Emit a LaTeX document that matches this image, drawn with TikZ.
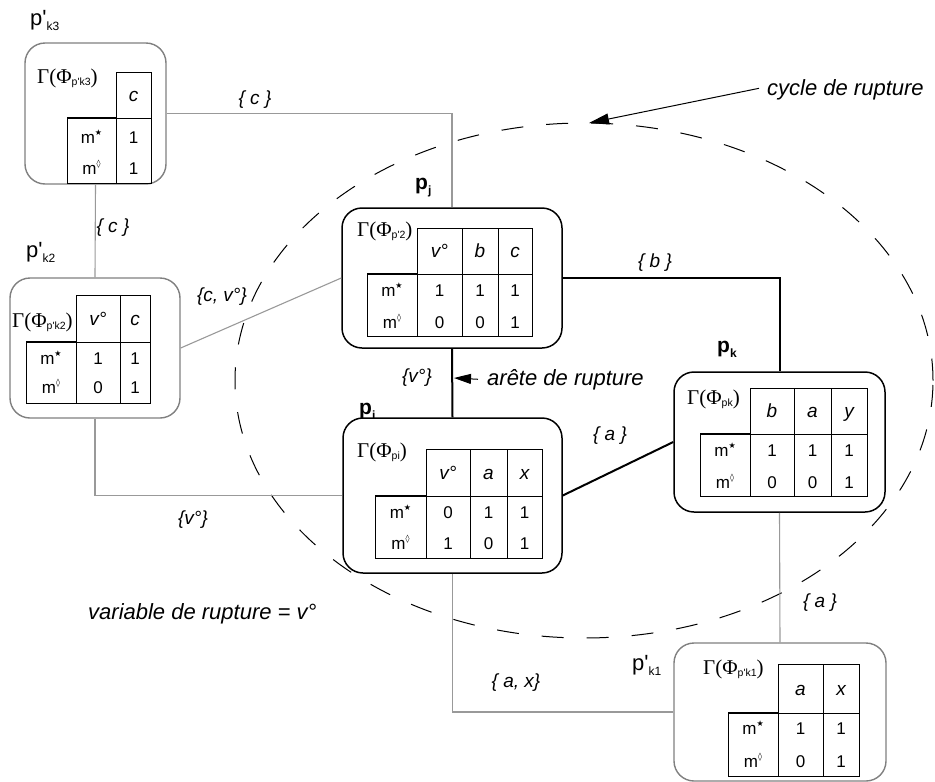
\documentclass[tikz,border=0pt]{standalone}
\usepackage{fontspec}
\setmainfont{Liberation Sans}[Ligatures=TeXOff]
\newfontfamily\tmsfont{Liberation Serif}
\newfontfamily\djv{DejaVu Sans}
\usetikzlibrary{arrows.meta}
\newcommand{\fs}[1]{\fontsize{#1}{#1}\selectfont}
\newcommand{\mstar}{m\raisebox{0.42em}{\djv\fs{8}★}}
\newcommand{\mdia}{m\raisebox{0.45em}{\djv\fs{8}◊}}
\newcommand{\gtitle}[1]{{\tmsfont\fs{21}Γ(Φ}\raisebox{-2pt}{\fs{10.5}#1}{\tmsfont\fs{21})}}
\newcommand{\plab}[2]{{\fs{22}#1}\raisebox{-5pt}{\fs{12}#2}}
\newcommand{\pblab}[2]{{\bfseries\fs{21}#1}\raisebox{-5pt}{\bfseries\fs{12}#2}}
\newcommand{\tabframe}[6]{%
  \draw[tabline] (#2,#4) rectangle (#3,#6);
  \draw[tabline] (#1,#5) -- (#3,#5);
  \draw[tabline] (#1,#5) -- (#1,#6) -- (#2,#6);
  \draw[thk] (#1,#5) -- (#2,#5);}
\newcommand{\tabcols}[5]{%
  \foreach \cx/\hh/\va/\vb [count=\ci] in {#5} {
    \node[hd] (#1h\ci) at (\cx,#2) {\hh};
    \node[cell] (#1a\ci) at (\cx,#3) {\va};
    \node[cell] (#1b\ci) at (\cx,#4) {\vb};
  }}
\tikzset{
  pbox/.style={draw=black, line width=1.5pt, rounded corners=20pt, fill=white, inner sep=0pt},
  gbox/.style={draw=black!50, line width=1.4pt, rounded corners=20pt, fill=white, inner sep=0pt},
  tabline/.style={line width=1pt},
  thk/.style={line width=2.2pt},
  gcon/.style={draw=black!40, line width=1.1pt},
  bcon/.style={line width=2pt},
  elab/.style={font=\fs{19}\itshape, inner sep=0pt},
  big/.style={font=\fs{22}\itshape, inner sep=0pt, anchor=base west},
  hd/.style={font=\fs{19}\itshape, inner sep=0pt, text height=13.6pt, text depth=0pt},
  cell/.style={font=\fs{17}, inner sep=0pt, text height=12.2pt, text depth=0pt},
  ttl/.style={inner sep=0pt, anchor=base west},
  lab/.style={inner sep=0pt, anchor=base west},
  cycdash/.style={line width=1pt, dash pattern=on 22pt off 23pt},
  ptr/.style={line width=1pt, -{Triangle[length=20pt,width=11pt]}},
}
\begin{document}
\begin{tikzpicture}[x=1pt,y=-1pt]
\useasboundingbox (0,0) rectangle (935,782);
% cycle
\draw[cycdash] (584,380.5) ellipse [x radius=349pt, y radius=257.5pt];
% boxes
\node[gbox, minimum width=141pt, minimum height=141pt] (pk3) at (95.5,113.5) {};
\node[gbox, minimum width=170pt, minimum height=140pt] (pk2) at (95,348) {};
\node[pbox, minimum width=220pt, minimum height=140pt] (pj) at (452,278) {};
\node[pbox, minimum width=219pt, minimum height=155pt] (pi) at (452.5,495.5) {};
\node[pbox, minimum width=211pt, minimum height=140pt] (pk) at (779.5,442) {};
\node[gbox, minimum width=212pt, minimum height=138pt] (pk1) at (780,712) {};
% connectors
\draw[gcon] (pk3.east) -| (pj.north);
\draw[gcon] (pk3.south) -- (pk2.north);
\draw[gcon] (pk2.east) -- (pj.west);
\draw[gcon] (pk2.south) |- (pi.west);
\draw[gcon] (pk.south) -- (pk1.north);
\draw[gcon] (pi.south) |- (pk1.west);
\draw[bcon] (pj.east) -| (pk.north);
\draw[bcon] (pj.south) -- (pi.north);
\draw[bcon] (pi.east) -- (pk.west);
% tables
% p'k3
\tabframe{67}{116}{151}{72}{118}{183}
\node[cell] (k3m1) at (91.5,137) {\mstar};
\node[cell] (k3m2) at (91.5,168) {\mdia};
\tabcols{k3}{95}{137}{168}{133.5/c/1/1}
\node[ttl] (k3t) at (37,83) {\gtitle{p'k3}};
% p'k2
\tabframe{26}{76}{150}{295}{342}{403}
\draw[tabline] (120,295) -- (120,403);
\node[cell] (k2m1) at (51,358) {\mstar};
\node[cell] (k2m2) at (51,387) {\mdia};
\tabcols{k2}{318.5}{358}{387}{98/v°/1/0,135/c/1/1}
\node[ttl] (k2t) at (12,327) {\gtitle{p'k2}};
% pj
\tabframe{367}{417}{532}{228}{274}{336}
\foreach \dx in {462,498} \draw[tabline] (\dx,228) -- (\dx,336);
\node[cell] (jm1) at (392,290) {\mstar};
\node[cell] (jm2) at (392,322) {\mdia};
\tabcols{j}{251}{290}{322}{439.5/v°/1/0,480/b/1/0,515/c/1/1}
\node[ttl] (jt) at (357,236) {\gtitle{p'2}};
% pi
\tabframe{375}{426}{542}{449}{496}{558}
\foreach \dx in {470,507} \draw[tabline] (\dx,449) -- (\dx,558);
\node[cell] (im1) at (400.5,512) {\mstar};
\node[cell] (im2) at (400.5,543) {\mdia};
\tabcols{i}{472.5}{512}{543}{448/v°/0/1,488.5/a/1/0,524.5/x/1/1}
\node[ttl] (it) at (357,457) {\gtitle{pi}};
% pk
\tabframe{700}{750}{867}{388}{434}{496}
\foreach \dx in {794,831} \draw[tabline] (\dx,388) -- (\dx,496);
\node[cell] (km1) at (725,450) {\mstar};
\node[cell] (km2) at (725,482) {\mdia};
\tabcols{k}{411}{450}{482}{772/b/1/0,812.5/a/1/0,849/y/1/1}
\node[ttl] (kt) at (687,404) {\gtitle{pk}};
% p'k1
\tabframe{728}{778}{859}{664}{713}{776}
\draw[tabline] (823,664) -- (823,776);
\node[cell] (k1m1) at (753,728) {\mstar};
\node[cell] (k1m2) at (753,761) {\mdia};
\tabcols{k1}{688.5}{728}{761}{800.5/a/1/0,841/x/1/1}
\node[ttl] (k1t) at (703,674) {\gtitle{p'k1}};
% node labels
\node[lab] (lk3) at (30,25) {\plab{p'}{k3}};
\node[lab] (lk2) at (26,257) {\plab{p'}{k2}};
\node[lab] (lk1) at (632,670) {\plab{p'}{k1}};
\node[lab] (lj) at (415,189) {\pblab{p}{j}};
\node[lab] (lk) at (717,352) {\pblab{p}{k}};
\node[lab] (li) at (359,414) {\pblab{p}{i}};
% edge labels
\node[elab] (e1) at (255,100) {\{ c \}};
\node[elab] (e2) at (113,228) {\{ c \}};
\node[elab] (e3) at (222,297) {\{c, v°\}};
\node[elab] (e4) at (655,263) {\{ b \}};
\node[elab] (e5) at (417,378) {\{v°\}};
\node[elab] (e6) at (610,436) {\{ a \}};
\node[elab] (e7) at (193,520) {\{v°\}};
\node[elab] (e8) at (820,603) {\{ a \}};
\node[elab] (e9) at (516,683) {\{ a, x\}};
% annotations
\node[big] (cyc) at (767,95) {cycle de rupture};
\coordinate (ctop) at (589,123);
\draw[ptr] ([xshift=-8pt,yshift=1pt]cyc.west) -- (ctop);
\node[big] (arete) at (487,385) {arête de rupture};
\coordinate (apt) at (454,378);
\draw[ptr, -{Triangle[length=17pt,width=10pt]}] ([xshift=-9pt]arete.west) -- (apt);
\node[big] (var) at (88,619) {variable de rupture = v°};
\end{tikzpicture}
\end{document}
